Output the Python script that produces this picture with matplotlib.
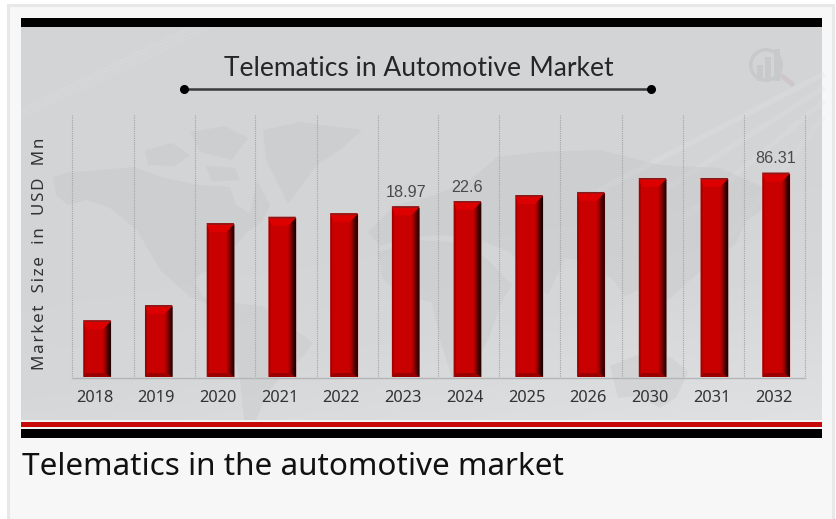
import numpy as np
import matplotlib
matplotlib.use("Agg")
import matplotlib.pyplot as plt
from matplotlib.patches import Polygon, Rectangle, Wedge
from matplotlib.colors import LinearSegmentedColormap
from matplotlib.transforms import IdentityTransform, ScaledTranslation

# Market size by year; only three years carry a printed figure
years = ["2018", "2019", "2020", "2021", "2022", "2023",
         "2024", "2025", "2026", "2030", "2031", "2032"]
market_size = [6.3, 8.0, 17.1, 17.8, 18.2, 18.97,
               22.6, 36.1, 42.9, 74.4, 74.4, 86.31]
printed_labels = {"2023": "18.97", "2024": "22.6", "2032": "86.31"}

# The value axis is not linear: the upper range is compressed
scale_values = [0.0, 18.97, 22.6, 86.31, 118.0]
scale_heights = [0.0, 170.7, 176.0, 204.3, 262.0]

W, H = 836, 519
fig = plt.figure(figsize=(W / 100, H / 100), dpi=100, facecolor="white")

# Page layer in pixel coordinates: card, panel, bands
page = fig.add_axes([0, 0, 1, 1], zorder=0)
page.set_xlim(0, W)
page.set_ylim(H, 0)
page.axis("off")
page.add_patch(Rectangle((8, 5), 825, 530, fc="#f7f7f7", ec="#e8e8e8", lw=2.2))

# Panel background: darker through the middle, lighter to the lower right
yy, xx = np.mgrid[0:1:120j, 0:1:200j]
shade = (yy * 0.75 + xx * 0.35) - 0.55 + 0.35 * np.abs(yy - 0.35)
bg_cmap = LinearSegmentedColormap.from_list("panel", ["#d3d4d6", "#d6d7d8", "#dfe0e1"])
page.imshow(shade, extent=(21, 822, 420, 27), cmap=bg_cmap, vmin=0, vmax=0.75,
            aspect="auto", zorder=1)

# Faint diagonal sheen across the corners
for off, a in zip([0, 7, 14, 22], [0.28, 0.24, 0.22, 0.2]):
    page.plot([21, 190 + off], [110 + off * 0.4, 27], color="#e6e6e0", lw=0.8, alpha=a, zorder=2)
    page.plot([600 + off * 6, 822], [190 + off * 2, 75 + off * 2], color="#e2e3e4", lw=4, alpha=a, zorder=2)

# Faint world map silhouette behind the bars
land = [
    # Alaska and the North American mainland
    [(53, 177), (70, 172), (100, 170), (133, 167), (165, 178), (200, 185), (230, 187), (236, 205), (250, 213),
     (257, 180), (270, 205), (262, 222), (247, 232), (232, 250), (217, 263), (200, 275), (193, 281), (204, 297),
     (232, 306), (225, 311), (190, 297), (160, 270), (137, 230), (110, 208), (87, 200), (68, 205), (56, 195)],
    # Arctic islands
    [(145, 150), (172, 143), (190, 155), (175, 166), (148, 165)],
    [(190, 132), (225, 126), (248, 138), (232, 160), (200, 152)],
    [(205, 165), (235, 168), (240, 180), (212, 182)],
    # Greenland
    [(263, 130), (300, 122), (362, 130), (340, 150), (317, 165), (298, 190), (288, 204), (276, 180), (266, 160)],
    # South America
    [(233, 303), (262, 306), (285, 322), (313, 343), (298, 362), (280, 378), (268, 392), (256, 420), (244, 420),
     (240, 380), (232, 345), (226, 320)],
    # Europe and Asia
    [(368, 232), (395, 205), (432, 196), (470, 180), (497, 157), (540, 152), (600, 150), (660, 165), (720, 168),
     (763, 187), (790, 197), (765, 208), (745, 222), (735, 245), (712, 262), (690, 280), (668, 300), (650, 285),
     (625, 296), (613, 280), (590, 262), (565, 258), (548, 295), (532, 280), (510, 252), (480, 240), (440, 235),
     (405, 238), (380, 246)],
    # Africa
    [(378, 252), (420, 240), (470, 244), (490, 262), (512, 285), (500, 305), (490, 335), (472, 372), (452, 378),
     (440, 340), (432, 302), (402, 296), (382, 278)],
    # Australia
    [(610, 366), (640, 354), (672, 358), (688, 372), (676, 398), (660, 408), (640, 396), (618, 398)],
]
for shape in land:
    page.add_patch(Polygon(shape, closed=True, fc="#c3c4c6", ec="none", alpha=0.32, zorder=3))

# Top black band and bottom red/black bands
page.add_patch(Rectangle((21, 18), 801, 9, fc="black", ec="none", zorder=4))
page.add_patch(Rectangle((21, 419.5), 801, 9, fc="#f2f2f2", ec="none", zorder=4))
page.add_patch(Rectangle((21, 421.5), 801, 5.2, fc="#c60808", ec="none", zorder=5))
page.add_patch(Rectangle((21, 428.5), 801, 9.5, fc="black", ec="none", zorder=5))

# Title with its rule and end dots
page.text(224, 69, "Telematics in Automotive\u200a Market", family=["Lato", "DejaVu Sans"], fontsize=19,
          color="#262626", ha="left", va="center", zorder=6)
page.plot([184, 651], [89, 89], color="#3a3a3a", lw=1.8, zorder=6, solid_capstyle="butt")
page.plot([184, 651], [89, 89], "o", color="black", ms=5.5, zorder=7)

# Small faded logo at the upper right
logo_c = "#c8c9cb"
page.add_patch(Wedge((766, 65), 17, 0, 360, width=3.5, fc=logo_c, ec="none", zorder=6))
for bx, bt in zip([757, 765, 774], [65, 57, 49]):
    page.add_patch(Rectangle((bx, bt), 6, 81 - bt, fc=logo_c, ec="none", zorder=6))
page.plot([782, 792], [76, 84], color="#cdc7c7", lw=3.6, zorder=6, solid_capstyle="round")

# Dotted grid and baseline of the plot area
grid_edges = [72, 134, 195, 255, 317, 378, 438, 499, 560, 622, 683, 744, 805]
page.vlines(grid_edges, 115, 377, color="#a4a5a7", lw=0.8, ls=(0, (1, 1)), zorder=4)
page.plot([72, 805], [377.5, 377.5], color="#b4b5b7", lw=1.0, zorder=4)

# Caption below the panel
page.text(22, 467, "Telematics in the automotive market", family="Noto Sans", fontsize=22.7,
          color="#111111", ha="left", va="center")

# Axis title with widened letter gaps
hair = "\u200a"
axis_title = " ".join(hair.join(word) for word in "Market Size in USD Mn".split())
page.text(40, 254, axis_title.replace(" ", hair + "  " + hair), family=["Noto Sans", "DejaVu Sans"],
          fontsize=12.2, color="#333333", rotation=90, ha="center", va="center", zorder=6)

# Chart axes: bar centres run evenly from 97 px to 776 px
ax = fig.add_axes([72 / W, 1 - 377 / H, (805 - 72) / W, (377 - 115) / H], zorder=2)
ax.patch.set_alpha(0)
ax.set_yscale("function", functions=(
    lambda v: np.interp(v, scale_values, scale_heights),
    lambda h: np.interp(h, scale_heights, scale_values),
))
PX = (776 - 97) / (len(years) - 1)
ax.set_xlim((72 - 97) / PX, (805 - 97) / PX)
ax.set_ylim(scale_values[0], scale_values[-1])
x = np.arange(len(years))
BAR_W = 27.5 / PX

ax.set_xticks(x, years, family="Noto Sans", fontsize=11.8, color="#333333")
ax.tick_params(axis="x", which="both", length=0, pad=9.2)
ax.set_yticks([])
ax.minorticks_off()
ax.tick_params(axis="y", which="both", length=0)
for side in ax.spines:
    ax.spines[side].set_visible(False)
for label in ax.get_xticklabels():
    label.set_transform(label.get_transform() + ScaledTranslation(-2.5 / 100, 0, fig.dpi_scale_trans))

# Flat bars from the data, then bevel faces laid over them
ax.bar(x, market_size, width=BAR_W, color="#c80000", edgecolor="#e6e6e6", linewidth=0.5, zorder=3)

side_shades = ["#bc0000", "#aa0000", "#920000", "#760000", "#580000", "#3c0000", "#280000", "#1c0000"]
idt = IdentityTransform()
for xi, val in zip(x, market_size):
    xl, ytop = ax.transData.transform((xi - BAR_W / 2, val))
    xr, ybase = ax.transData.transform((xi + BAR_W / 2, 0))
    n = len(side_shades)
    # Right face, darkening outward
    for k, c in enumerate(side_shades):
        x0 = xr - (n - k)
        ax.add_patch(Polygon([(x0, ytop - (n - k) - 1), (x0 + 1.2, ytop - (n - k - 1) - 1),
                              (x0 + 1.2, ybase + (n - k - 1) * 0.6), (x0, ybase + (n - k) * 0.6)],
                             closed=True, fc=c, ec="none", zorder=3.2, transform=idt))
    # Narrow left face
    ax.add_patch(Polygon([(xl, ytop), (xl + 2, ytop - 3), (xl + 2, ybase + 2), (xl, ybase)],
                         closed=True, fc="#a50000", ec="none", zorder=3.2, transform=idt))
    # Top face, bright below a dark rim
    ax.add_patch(Polygon([(xl, ytop), (xr, ytop), (xr - 8, ytop - 9), (xl + 3, ytop - 9)],
                         closed=True, fc="#dc0000", ec="none", zorder=3.3, transform=idt))
    ax.add_patch(Polygon([(xl, ytop), (xr, ytop), (xr - 1, ytop - 1.6), (xl + 1, ytop - 1.6)],
                         closed=True, fc="#8a1a1a", ec="none", zorder=3.4, transform=idt))
    # Bottom face in shadow
    ax.add_patch(Polygon([(xl, ybase), (xr, ybase), (xr - 7, ybase + 4), (xl + 3, ybase + 4)],
                         closed=True, fc="#9a0000", ec="none", zorder=3.3, transform=idt))

# Printed values above the labelled bars
for xi, year, val in zip(x, years, market_size):
    if year in printed_labels:
        ax.annotate(printed_labels[year], (xi, val), xytext=(0, 4.5), textcoords="offset points",
                    ha="center", va="bottom", family="Liberation Sans", fontsize=11.6, color="#4a4a4a",
                    zorder=5)

fig.savefig("out.png", dpi=100, facecolor=fig.get_facecolor())
